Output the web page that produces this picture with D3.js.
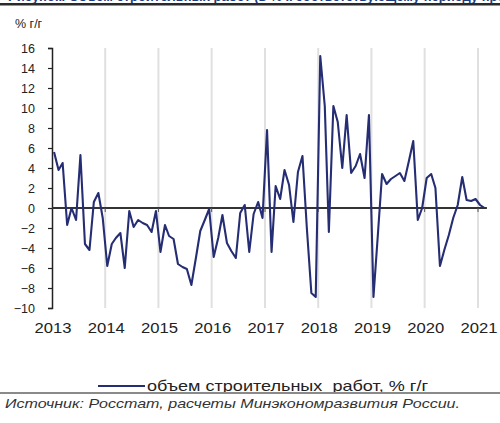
<!DOCTYPE html>
<html>
<head>
<meta charset="utf-8">
<script src="https://cdn.jsdelivr.net/npm/d3@7"></script>
<style>
  html, body { margin: 0; padding: 0; background: #fff; }
  svg { display: block; font-family: Arial, "Liberation Sans", sans-serif; }
</style>
</head>
<body>
<svg id="chart" width="500" height="423"></svg>
<script>
// Monthly series, January 2013 – February 2021
const startYear = 2013;
const values2013 = [5.6, 3.8, 4.5, -1.7, 0.0, -1.2, 5.3, -3.6, -4.2, 0.6, 1.5, -1.0];
const values2014 = [-5.8, -3.6, -3.0, -2.5, -6.0, -0.3, -1.9, -1.2, -1.5, -1.7, -2.4, -0.3];
const values2015 = [-4.4, -1.7, -2.8, -3.1, -5.6, -5.9, -6.1, -7.7, -5.0, -2.3, -1.2, -0.1];
const values2016 = [-4.9, -3.0, -0.7, -3.5, -4.3, -5.0, -0.5, 0.3, -4.4, -0.6, 0.6, -1.0];
const values2017 = [7.8, -4.4, 2.2, 0.9, 3.8, 2.3, -1.4, 3.6, 5.2, -2.0, -8.5, -8.9];
const values2018 = [15.2, 10.2, -2.4, 10.2, 8.6, 4.0, 9.3, 3.5, 4.2, 5.4, 3.0, 9.3];
const values2019 = [-8.9, -2.5, 3.4, 2.4, 2.9, 3.2, 3.5, 2.7, 4.7, 6.7, -1.2, 0.0];
const values2020 = [3.0, 3.4, 2.0, -5.8, -4.2, -2.7, -1.0, 0.3, 3.1, 0.8, 0.7, 0.9];
const values2021 = [0.3, 0.0];

const yearLabels = ["2013", "2014", "2015", "2016", "2017", "2018", "2019", "2020", "2021"];
const yTicks = [-10, -8, -6, -4, -2, 0, 2, 4, 6, 8, 10, 12, 14, 16];
const unitLabel = "% г/г";
const seriesName = "объем строительных  работ, % г/г";
const sourceText = "Источник: Росстат, расчеты Минэкономразвития России.";
const titleText = "Рисунок. Объем строительных работ (в % к соответствующему периоду предыдущего года)";

const allValues = [].concat(values2013, values2014, values2015, values2016,
  values2017, values2018, values2019, values2020, values2021);
const series = allValues.map((v, i) => ({
  date: new Date(startYear + Math.floor(i / 12), i % 12, 15),
  value: v
}));

const svg = d3.select("#chart");

const x = d3.scaleTime()
  .domain([new Date(2013, 0, 1), new Date(2021, 0, 1)])
  .range([52, 478]);
const y = d3.scaleLinear().domain([-10, 16]).range([308, 48]);

const lineColor = "#252d73";

// Header rule, with the tail of the page title just above it
svg.append("text")
  .attr("x", 8).attr("y", 1)
  .attr("fill", "#1f3d7a")
  .attr("font-size", 13).attr("font-weight", "bold")
  .text(titleText);
svg.append("rect")
  .attr("x", 0).attr("y", 3).attr("width", 500).attr("height", 2.5)
  .attr("fill", "#2a2a2a");

// Vertical year gridlines
const yearDates = yearLabels.map(s => new Date(+s, 0, 1));
svg.append("g")
  .selectAll("line")
  .data(yearDates.slice(1))
  .join("line")
  .attr("x1", d => x(d)).attr("x2", d => x(d))
  .attr("y1", y(16)).attr("y2", y(-10))
  .attr("stroke", "#e0e0e0")
  .attr("stroke-width", 2);

// Y axis
const yAxis = d3.axisLeft(y)
  .tickValues(yTicks)
  .tickSize(4)
  .tickPadding(13)
  .tickFormat(d3.format("d"));
const gy = svg.append("g")
  .attr("transform", `translate(${x(new Date(2013, 0, 1))},0)`)
  .call(yAxis);
gy.select(".domain").attr("stroke", "#222").attr("stroke-width", 1.5);
gy.selectAll(".tick line").attr("stroke", "#222").attr("stroke-width", 1.2);
gy.selectAll(".tick text")
  .attr("font-size", 12.5)
  .attr("fill", "#222")
  .style("font-family", "Arial, 'Liberation Sans', sans-serif");

// Unit label
svg.append("text")
  .attr("x", 15).attr("y", 28)
  .attr("font-size", 12.5).attr("fill", "#222")
  .text(unitLabel);

// Zero baseline with year ticks
const x0 = x(new Date(2013, 0, 1));
const xEnd = x(new Date(2021, 2, 3));
svg.append("line")
  .attr("x1", x0).attr("x2", xEnd)
  .attr("y1", y(0)).attr("y2", y(0))
  .attr("stroke", "#333")
  .attr("stroke-width", 2);
svg.append("g")
  .selectAll("line")
  .data(yearDates.slice(1))
  .join("line")
  .attr("x1", d => x(d)).attr("x2", d => x(d))
  .attr("y1", y(0)).attr("y2", y(0) + 4)
  .attr("stroke", "#555")
  .attr("stroke-width", 1);

// Year labels under the plot
svg.append("g")
  .selectAll("text")
  .data(yearDates)
  .join("text")
  .attr("x", d => x(d) + 1)
  .attr("y", 333)
  .attr("text-anchor", "middle")
  .attr("font-size", 14)
  .attr("fill", "#222")
  .attr("textLength", 37)
  .attr("lengthAdjust", "spacingAndGlyphs")
  .text((d, i) => yearLabels[i]);

// Data line
const line = d3.line()
  .x(d => x(d.date))
  .y(d => y(d.value));
svg.append("path")
  .datum(series)
  .attr("fill", "none")
  .attr("stroke", lineColor)
  .attr("stroke-width", 2.1)
  .attr("stroke-linejoin", "round")
  .attr("d", line);

// Legend
svg.append("line")
  .attr("x1", 98).attr("x2", 145)
  .attr("y1", 386).attr("y2", 386)
  .attr("stroke", lineColor).attr("stroke-width", 2);
svg.append("text")
  .attr("x", 147).attr("y", 391)
  .attr("font-size", 14.5).attr("fill", "#222")
  .attr("textLength", 281)
  .attr("lengthAdjust", "spacingAndGlyphs")
  .style("white-space", "pre")
  .text(seriesName);

// Separator and source note
svg.append("rect")
  .attr("x", 0).attr("y", 392).attr("width", 500).attr("height", 2)
  .attr("fill", "#8a8a8a");
svg.append("text")
  .attr("x", 5).attr("y", 408)
  .attr("font-size", 13).attr("font-style", "italic").attr("fill", "#333")
  .attr("textLength", 455)
  .attr("lengthAdjust", "spacingAndGlyphs")
  .text(sourceText);
</script>
</body>
</html>
